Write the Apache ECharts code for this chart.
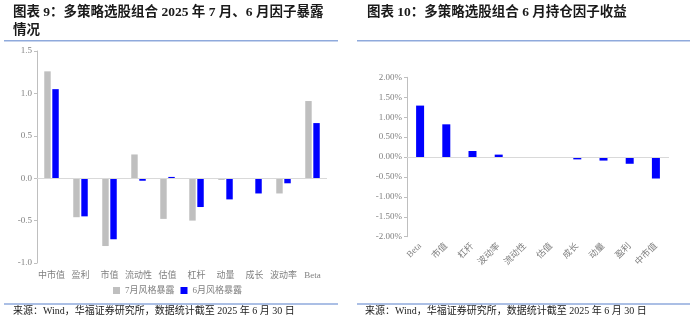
<!DOCTYPE html>
<html><head><meta charset="utf-8">
<script src="https://cdn.jsdelivr.net/npm/echarts@6/dist/echarts.min.js"></script>
<style>html,body{margin:0;padding:0;background:#fff}#c{width:700px;height:335px}</style>
</head><body><div id="c"></div>
<script>
const catsLeft = ['中市值','盈利','市值','流动性','估值','杠杆','动量','成长','波动率','Beta'];
const julExposure = [1.26,-0.46,-0.80,0.28,-0.48,-0.50,-0.02,-0.005,-0.18,0.91];
const junExposure = [1.05,-0.45,-0.72,-0.03,0.015,-0.34,-0.25,-0.18,-0.06,0.65];
const leftTicks = {min:-1, max:1.5, interval:0.5};

const catsRight = ['Beta','市值','杠杆','波动率','流动性','估值','成长','动量','盈利','中市值'];
const junReturn = [1.29,0.82,0.15,0.06,0,0,-0.06,-0.09,-0.17,-0.54];
const rightTicks = {min:-2, max:2, interval:0.5};

const FONT = '"Liberation Serif","Noto Sans CJK SC",serif';
const TFONT = '"Liberation Serif","Noto Sans CJK SC",serif';
const gray = '#808080';
const lineBlue = '#8FAADC';

const chart = echarts.init(document.getElementById('c'), null, {renderer:'canvas'});
const zeroLine = {silent:true, symbol:['none','none'], label:{show:false},
  lineStyle:{color:'#D9D9D9', type:'solid', width:1}, data:[{yAxis:0}]};

chart.setOption({
  animation:false,
  textStyle:{fontFamily:FONT},
  grid:[
    {left:37, top:51, width:290, height:212},
    {left:407, top:77.3, width:262, height:159.4}
  ],
  legend:{
    left:108, top:281, itemWidth:7, itemHeight:7, itemGap:6, icon:'rect',
    textStyle:{fontSize:9, color:gray, fontFamily:FONT},
    data:['7月风格暴露','6月风格暴露']
  },
  xAxis:[
    {type:'category', gridIndex:0, data:catsLeft,
     axisLine:{show:false, onZero:false}, axisTick:{show:false},
     axisLabel:{interval:0, fontSize:9, color:gray, margin:8, fontFamily:FONT}},
    {type:'category', gridIndex:1, data:catsRight,
     axisLine:{show:false, onZero:false}, axisTick:{show:false},
     axisLabel:{interval:0, rotate:45, fontSize:9, color:gray, margin:8, fontFamily:FONT}}
  ],
  yAxis:[
    {type:'value', gridIndex:0, min:leftTicks.min, max:leftTicks.max, interval:leftTicks.interval,
     axisLine:{show:true, lineStyle:{color:'#BFBFBF'}}, axisTick:{show:true, length:3, lineStyle:{color:'#BFBFBF'}},
     splitLine:{show:false},
     axisLabel:{fontSize:9, color:gray, margin:5, formatter:v=>v.toFixed(1)}},
    {type:'value', gridIndex:1, min:rightTicks.min, max:rightTicks.max, interval:rightTicks.interval,
     axisLine:{show:true, lineStyle:{color:'#BFBFBF'}}, axisTick:{show:true, length:3, lineStyle:{color:'#BFBFBF'}},
     splitLine:{show:false},
     axisLabel:{fontSize:9, color:gray, margin:5, formatter:v=>v.toFixed(2)+'%'}}
  ],
  series:[
    {name:'7月风格暴露', type:'bar', xAxisIndex:0, yAxisIndex:0, data:julExposure,
     itemStyle:{color:'#BFBFBF'}, barGap:'25%', barCategoryGap:'50%', markLine:zeroLine},
    {name:'6月风格暴露', type:'bar', xAxisIndex:0, yAxisIndex:0, data:junExposure,
     itemStyle:{color:'#0000FF'}, barGap:'25%', barCategoryGap:'50%'},
    {name:'6月收益', type:'bar', xAxisIndex:1, yAxisIndex:1, data:junReturn,
     itemStyle:{color:'#0000FF'}, barWidth:8, markLine:zeroLine}
  ],
  graphic:[
    {type:'text', left:13, top:6, style:{text:'图表 9：多策略选股组合 2025 年 7 月、6 月因子暴露', font:'bold 13.5px '+TFONT, fill:'#1a1a1a'}},
    {type:'text', left:13, top:24, style:{text:'情况', font:'bold 13.5px '+TFONT, fill:'#1a1a1a'}},
    {type:'text', left:367, top:6, style:{text:'图表 10：多策略选股组合 6 月持仓因子收益', font:'bold 13.5px '+TFONT, fill:'#1a1a1a'}},
    {type:'line', shape:{x1:4, y1:40.7, x2:338, y2:40.7}, style:{stroke:lineBlue, lineWidth:1.5}},
    {type:'line', shape:{x1:357, y1:40.7, x2:690, y2:40.7}, style:{stroke:lineBlue, lineWidth:1.5}},
    {type:'line', shape:{x1:4, y1:304, x2:338, y2:304}, style:{stroke:lineBlue, lineWidth:1.5}},
    {type:'line', shape:{x1:357, y1:304, x2:690, y2:304}, style:{stroke:lineBlue, lineWidth:1.5}},
    {type:'text', left:13, top:306, style:{text:'来源：Wind，华福证券研究所，数据统计截至 2025 年 6 月 30 日', font:'10px '+FONT, fill:'#222'}},
    {type:'text', left:365, top:306, style:{text:'来源：Wind，华福证券研究所，数据统计截至 2025 年 6 月 30 日', font:'10px '+FONT, fill:'#222'}}
  ]
});
</script></body></html>
